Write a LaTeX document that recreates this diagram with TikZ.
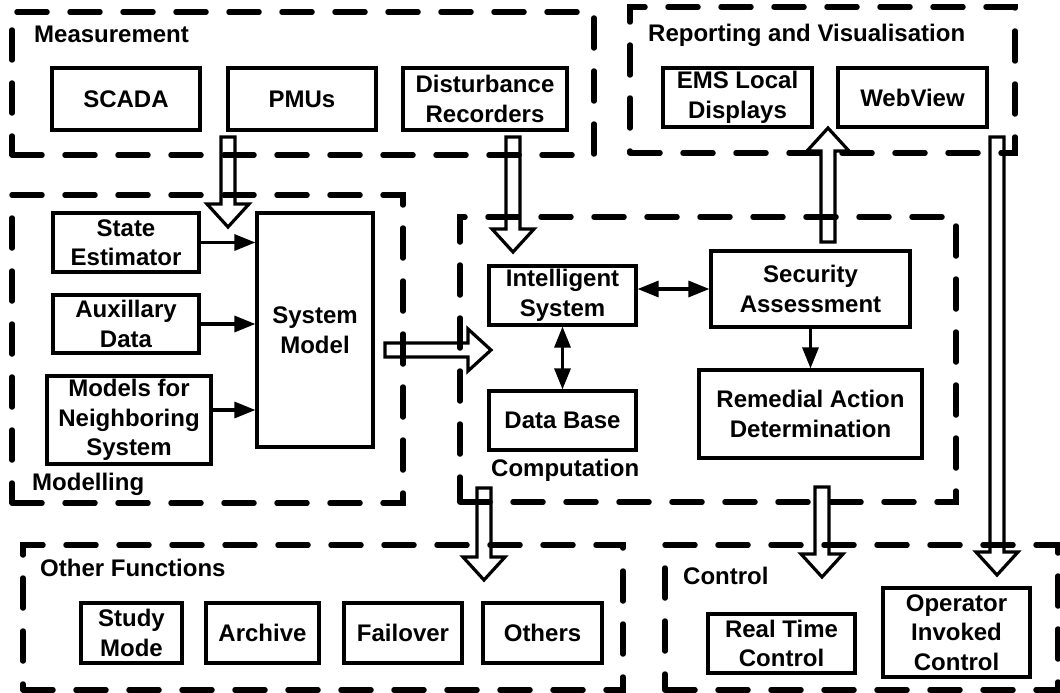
\documentclass[tikz,border=0pt]{standalone}
\usepackage{fontspec}
\setmainfont{Liberation Sans}
\usetikzlibrary{arrows.meta,calc}

\tikzset{
  txt/.style={font=\bfseries\fontsize{24}{29.5}\selectfont},
  box/.style={txt, draw, line width=3.2pt, align=center, inner sep=0pt},
  group/.style={draw, line width=5.5pt, line cap=round, dash pattern=on 30pt off 23pt, inner sep=0pt},
  grouplabel/.style={txt, anchor=base west, inner sep=0pt},
  arr/.style={line width=3.2pt, -{Triangle[length=21pt,width=16pt]}},
  biarr/.style={line width=3.2pt, {Triangle[length=21pt,width=16pt]}-{Triangle[length=21pt,width=16pt]}},
  blockarr/.style={draw, line width=3.2pt, line join=miter},
}

% hollow block arrow from #1 to #2 (shaft half-width 7pt, head half-width 21pt, head length 23pt)
\newcommand\blockarrow[2]{%
  \draw[blockarr] let \p1=(#1), \p2=(#2),
      \n1={atan2(\y2-\y1,\x2-\x1)}, \n2={veclen(\x2-\x1,\y2-\y1)-23pt}
    in ($(\p1)+(\n1+90:7pt)$)
    -- ($(\p1)+(\n1:\n2)+(\n1+90:7pt)$)
    -- ($(\p1)+(\n1:\n2)+(\n1+90:21pt)$)
    -- (\p2)
    -- ($(\p1)+(\n1:\n2)+(\n1-90:21pt)$)
    -- ($(\p1)+(\n1:\n2)+(\n1-90:7pt)$)
    -- ($(\p1)+(\n1-90:7pt)$) -- cycle;}

\begin{document}
\begin{tikzpicture}[x=1pt,y=-1pt]
\useasboundingbox (0,0) rectangle (1060,693);

% group frames
\node[group, minimum width=582pt, minimum height=143pt] (meas) at (303,83.5) {};
\node[group, minimum width=385pt, minimum height=146pt] (report) at (822.5,80) {};
\node[group, minimum width=391pt, minimum height=308pt] (model) at (207.5,349) {};
\node[group, minimum width=496pt, minimum height=285pt] (comp) at (708,359.5) {};
\node[group, minimum width=600pt, minimum height=145pt] (other) at (323,617.5) {};
\node[group, minimum width=393pt, minimum height=145pt] (ctrl) at (861.5,617.5) {};

% group titles
\node[grouplabel] (measlbl) at (34,43) {Measurement};
\node[grouplabel] (replbl) at (648,42) {Reporting and Visualisation};
\node[grouplabel] (modlbl) at (32,490) {Modelling};
\node[grouplabel] (complbl) at (491,476) {Computation};
\node[grouplabel] (othlbl) at (40,576) {Other Functions};
\node[grouplabel] (ctrllbl) at (683,584) {Control};

% measurement
\node[box, minimum width=148pt, minimum height=62pt] (scada) at (126,99) {SCADA};
\node[box, minimum width=148pt, minimum height=62pt] (pmus) at (302,99) {PMUs};
\node[box, minimum width=164pt, minimum height=62pt] (dist) at (485,99) {Disturbance\\Recorders};

% reporting
\node[box, minimum width=149pt, minimum height=59pt] (ems) at (737.5,97.5) {EMS Local\\Displays};
\node[box, minimum width=149pt, minimum height=59pt] (web) at (912.5,97.5) {WebView};

% modelling
\node[box, minimum width=146pt, minimum height=59pt] (se) at (126,242.5) {State\\Estimator};
\node[box, minimum width=146pt, minimum height=58pt] (aux) at (126,324) {Auxillary\\Data};
\node[box, minimum width=164pt, minimum height=88pt] (mns) at (129,420) {Models for\\Neighboring\\System};
\node[box, minimum width=116pt, minimum height=234pt] (sysm) at (315,330) {System\\Model};

% computation
\node[box, minimum width=147pt, minimum height=59pt] (intel) at (562.5,295.5) {Intelligent\\System};
\node[box, minimum width=199pt, minimum height=76pt] (sec) at (810.5,289) {Security\\Assessment};
\node[box, minimum width=147pt, minimum height=59pt] (db) at (562.5,420.5) {Data Base};
\node[box, minimum width=223pt, minimum height=88pt] (rad) at (810.5,414) {Remedial Action\\Determination};

% other functions
\node[box, minimum width=101pt, minimum height=60pt] (study) at (131.5,633) {Study\\Mode};
\node[box, minimum width=113pt, minimum height=60pt] (arch) at (262.5,633) {Archive};
\node[box, minimum width=118pt, minimum height=60pt] (fail) at (403,633) {Failover};
\node[box, minimum width=119pt, minimum height=60pt] (oth) at (542.5,633) {Others};

% control
\node[box, minimum width=147pt, minimum height=59pt] (rtc) at (781.5,643.5) {Real Time\\Control};
\node[box, minimum width=147pt, minimum height=89pt] (oic) at (956.5,632.5) {Operator\\Invoked\\Control};

% plain arrows
\draw[arr] (se.east) -- (se.east -| sysm.west);
\draw[arr] (aux.east) -- (aux.east -| sysm.west);
\coordinate (mnsout) at ([yshift=10pt]mns.east);
\draw[arr] (mnsout) -- (mnsout -| sysm.west);
\draw[biarr] (intel.east |- sec.west) -- (sec.west);
\draw[biarr] (intel.south) -- (db.north);
\draw[arr] (sec.south) -- (rad.north);

% block arrow end points
\coordinate (pmuA) at (228,137);  \coordinate (pmuB) at (228,227);
\coordinate (distA) at (513,137); \coordinate (distB) at (513,252);
\coordinate (smA) at (385,350);   \coordinate (smB) at (491,350);
\coordinate (secA) at (828,242);  \coordinate (secB) at (828,128);
\coordinate (webA) at (997,137);  \coordinate (webB) at (997,575);
\coordinate (cpoA) at (484,488);  \coordinate (cpoB) at (484,580);
\coordinate (cpcA) at (822,487);  \coordinate (cpcB) at (822,577);

% block arrows between groups
\blockarrow{pmuA}{pmuB}
\blockarrow{distA}{distB}
\blockarrow{smA}{smB}
\blockarrow{secA}{secB}
\blockarrow{webA}{webB}
\blockarrow{cpoA}{cpoB}
\blockarrow{cpcA}{cpcB}
\end{tikzpicture}
\end{document}
